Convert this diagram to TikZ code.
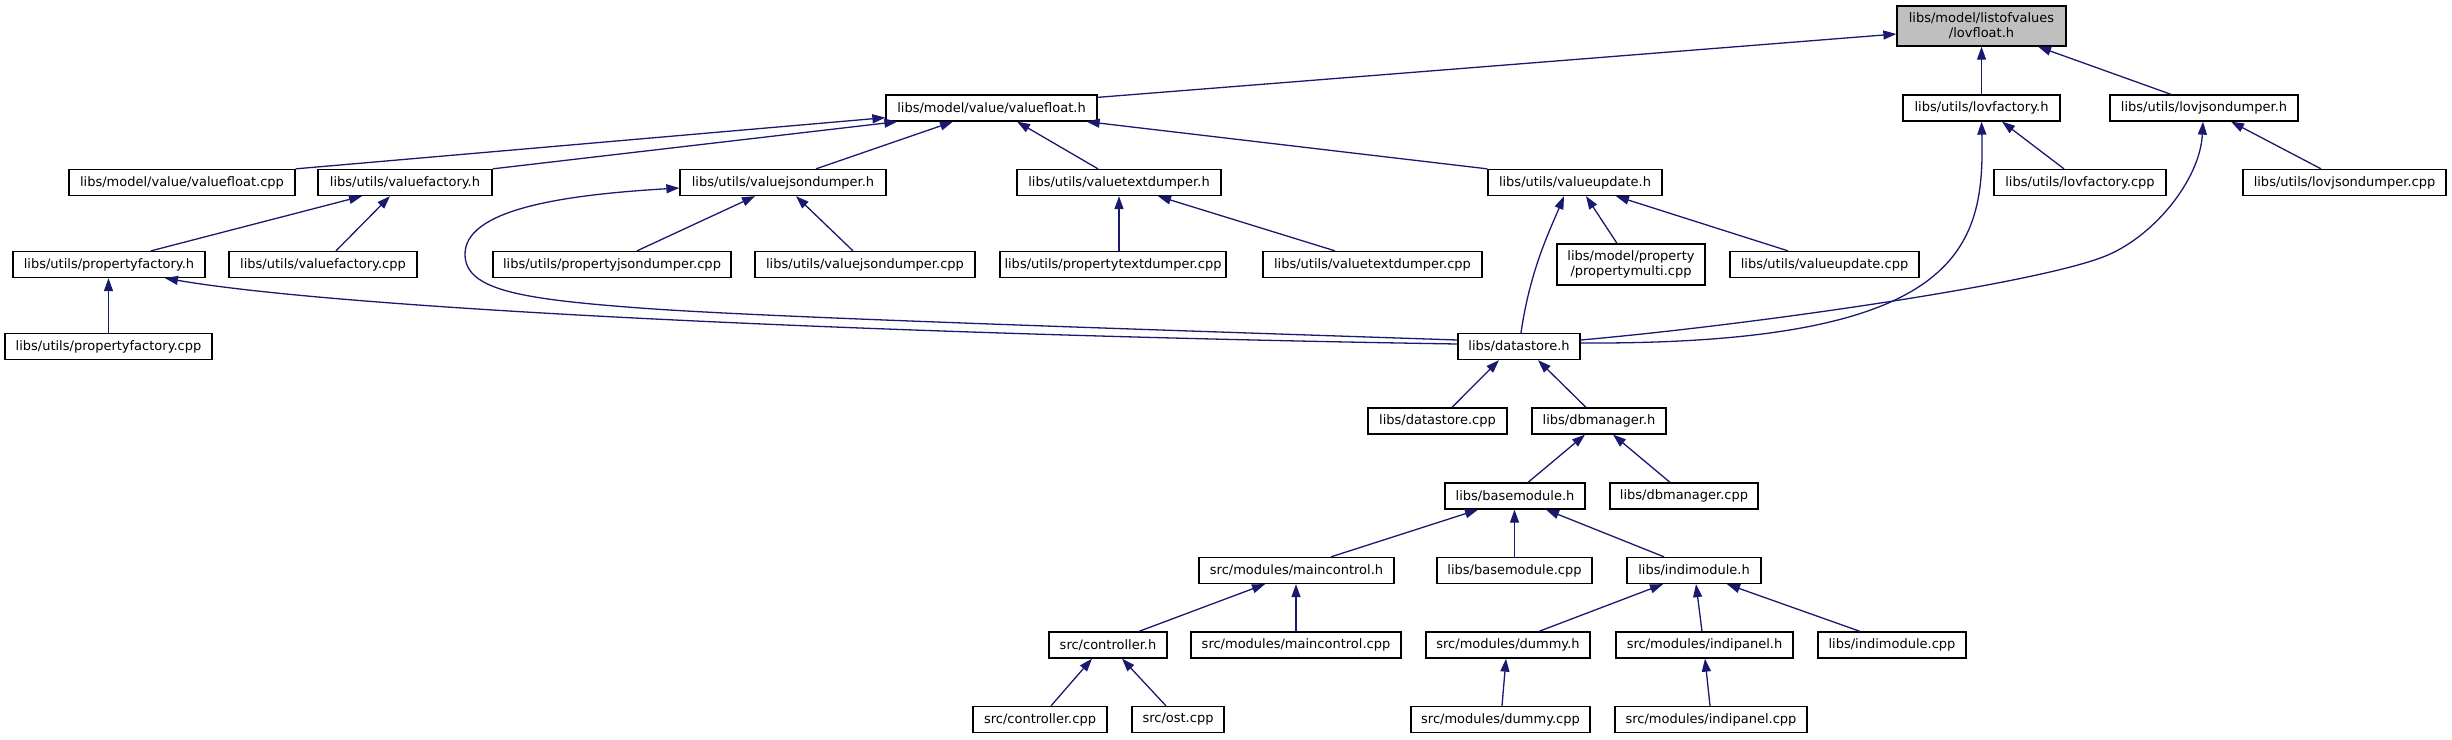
\documentclass[tikz,border=0pt]{standalone}
\usepackage{fontspec}
\setmainfont{DejaVu Sans}
\usetikzlibrary{arrows.meta}
\definecolor{edgeblue}{HTML}{191970}
\definecolor{rootgray}{HTML}{BFBFBF}
\begin{document}
\begin{tikzpicture}[x=1pt,y=-1pt,
  box/.style={draw=black, line width=1.3pt, fill=white, inner sep=0pt,
    minimum height=26pt, font=\fontsize{13}{15}\selectfont, align=center},
  rootbox/.style={box, fill=rootgray, minimum height=40pt},
  twobox/.style={box, minimum height=41pt},
  edge/.style={draw=edgeblue, line width=1.3pt, -{Triangle[length=13pt,width=9pt]}}]
\useasboundingbox (0,0) rectangle (2452,739);
% row 0
\node[rootbox, minimum width=169pt] (lov) at (1981.5,26) {libs/model/listofvalues\\/lovfloat.h};
% row 1
\node[box, minimum width=211pt] (vf) at (991.5,108) {libs/model/value/valuefloat.h};
\node[box, minimum width=157pt] (lf) at (1981.5,108) {libs/utils/lovfactory.h};
\node[box, minimum width=188pt] (lj) at (2204,108) {libs/utils/lovjsondumper.h};
% row 2
\node[box, minimum width=226pt] (vfc) at (182,182.5) {libs/model/value/valuefloat.cpp};
\node[box, minimum width=174pt] (vfh) at (405,182.5) {libs/utils/valuefactory.h};
\node[box, minimum width=206pt] (vjd) at (783,182.5) {libs/utils/valuejsondumper.h};
\node[box, minimum width=204pt] (vtd) at (1119,182.5) {libs/utils/valuetextdumper.h};
\node[box, minimum width=174pt] (vu) at (1575,182.5) {libs/utils/valueupdate.h};
\node[box, minimum width=172pt] (lfc) at (2080,182.5) {libs/utils/lovfactory.cpp};
\node[box, minimum width=203pt] (ljc) at (2344.5,182.5) {libs/utils/lovjsondumper.cpp};
% row 3
\node[box, minimum width=192pt] (pfh) at (109,264.5) {libs/utils/propertyfactory.h};
\node[box, minimum width=188pt] (vfcpp) at (323,264.5) {libs/utils/valuefactory.cpp};
\node[box, minimum width=238pt] (pjd) at (612,264.5) {libs/utils/propertyjsondumper.cpp};
\node[box, minimum width=220pt] (vjdc) at (865,264.5) {libs/utils/valuejsondumper.cpp};
\node[box, minimum width=226pt] (ptd) at (1113,264.5) {libs/utils/propertytextdumper.cpp};
\node[box, minimum width=219pt] (vtdc) at (1372.5,264.5) {libs/utils/valuetextdumper.cpp};
\node[twobox, minimum width=148pt] (pm) at (1631,264.5) {libs/model/property\\/propertymulti.cpp};
\node[box, minimum width=189pt] (vuc) at (1824.5,264.5) {libs/utils/valueupdate.cpp};
% row 4
\node[box, minimum width=207pt] (pfc) at (108.5,346.5) {libs/utils/propertyfactory.cpp};
\node[box, minimum width=122pt] (ds) at (1519,346.5) {libs/datastore.h};
% row 5
\node[box, minimum width=139pt] (dsc) at (1437.5,421) {libs/datastore.cpp};
\node[box, minimum width=134pt] (dbm) at (1599,421) {libs/dbmanager.h};
% row 6
\node[box, minimum width=140pt] (bm) at (1515,496) {libs/basemodule.h};
\node[box, minimum width=148pt] (dbc) at (1684,496) {libs/dbmanager.cpp};
% row 7
\node[box, minimum width=195pt] (mc) at (1296.5,570.5) {src/modules/maincontrol.h};
\node[box, minimum width=155pt] (bmc) at (1514.5,570.5) {libs/basemodule.cpp};
\node[box, minimum width=134pt] (im) at (1694,570.5) {libs/indimodule.h};
% row 8
\node[box, minimum width=118pt] (ch) at (1108,645) {src/controller.h};
\node[box, minimum width=210pt] (mcc) at (1296,645) {src/modules/maincontrol.cpp};
\node[box, minimum width=164pt] (dh) at (1508,645) {src/modules/dummy.h};
\node[box, minimum width=177pt] (ih) at (1704.5,645) {src/modules/indipanel.h};
\node[box, minimum width=148pt] (imc) at (1892,645) {libs/indimodule.cpp};
% row 9
\node[box, minimum width=134pt] (cc) at (1040,719.5) {src/controller.cpp};
\node[box, minimum width=92pt] (ost) at (1178,719.5) {src/ost.cpp};
\node[box, minimum width=179pt] (dc) at (1500.5,719.5) {src/modules/dummy.cpp};
\node[box, minimum width=192pt] (ic) at (1711,719.5) {src/modules/indipanel.cpp};

% edges to lovfloat.h
\draw[edge] ([yshift=-3pt]vf.north east) -- ([yshift=-8pt]lov.west);
\draw[edge] (lf.north) -- (lov.south);
\draw[edge] ([xshift=-33pt]lj.north) -- ([xshift=56.5pt]lov.south);
% edges to valuefloat.h
\draw[edge] (vfc.north east) -- ([yshift=4pt]vf.south west);
\draw[edge] (vfh.north east) -- ([xshift=12pt]vf.south west);
\draw[edge] ([xshift=33pt]vjd.north) -- ([xshift=-38.5pt]vf.south);
\draw[edge] ([xshift=-21pt]vtd.north) -- ([xshift=25.5pt]vf.south);
\draw[edge] (vu.north west) -- ([xshift=-11pt]vf.south east);
% edges to valuefactory.h
\draw[edge] ([xshift=42pt]pfh.north) -- ([xshift=-43pt]vfh.south);
\draw[edge] ([xshift=13pt]vfcpp.north) -- ([xshift=-15pt]vfh.south);
% edges to valuejsondumper.h
\draw[edge] ([xshift=25pt]pjd.north) -- ([xshift=-28pt]vjd.south);
\draw[edge] ([xshift=-12pt]vjdc.north) -- ([xshift=13pt]vjd.south);
\draw[edge] ([yshift=6.5pt]ds.west) .. controls (1100,328) and (760,317) .. (640,308)
  .. controls (520,299) and (466,290) .. (465,255)
  .. controls (464,210) and (560,195) .. ([yshift=-5.5pt]vjd.west);
% edges to valuetextdumper.h
\draw[edge] ([xshift=6pt]ptd.north) -- (vtd.south);
\draw[edge] ([xshift=-37.5pt]vtdc.north) -- ([xshift=39pt]vtd.south);
% edges to valueupdate.h
\draw[edge] ([xshift=2pt]ds.north) .. controls (1530,270) and (1550,230) .. ([xshift=-11pt]vu.south);
\draw[edge] ([xshift=-14pt]pm.north) -- ([xshift=11pt]vu.south);
\draw[edge] ([xshift=-36.5pt]vuc.north) -- ([xshift=41pt]vu.south);
% edges to lovfactory.h / lovjsondumper.h
\draw[edge] ([xshift=-16pt]lfc.north) -- ([xshift=20.5pt]lf.south);
\draw[edge] ([yshift=3.5pt]ds.east) .. controls (1960,345) and (1985,250) .. (lf.south);
\draw[edge] ([xshift=-23.5pt]ljc.north) -- ([xshift=27pt]lj.south);
\draw[edge] ([yshift=6.5pt]ds.east) .. controls (1750,325) and (2030,285) .. (2103,257)
  .. controls (2153,238) and (2200,180) .. ([xshift=-1pt]lj.south);
% edges to propertyfactory.h
\draw[edge] (pfc.north) -- (pfc.north |- pfh.south);
\draw[edge] ([yshift=2.5pt]ds.west) .. controls (900,335) and (350,310) .. ([xshift=56pt]pfh.south);
% lower part
\draw[edge] ([xshift=14.5pt]dsc.north) -- ([xshift=-20pt]ds.south);
\draw[edge] ([xshift=-13pt]dbm.north) -- ([xshift=19pt]ds.south);
\draw[edge] ([xshift=13pt]bm.north) -- ([xshift=-14pt]dbm.south);
\draw[edge] ([xshift=-14pt]dbc.north) -- ([xshift=14pt]dbm.south);
\draw[edge] ([xshift=34.5pt]mc.north) -- ([xshift=-37pt]bm.south);
\draw[edge] (bmc.north) -- (bmc.north |- bm.south);
\draw[edge] ([xshift=-30pt]im.north) -- ([xshift=31pt]bm.south);
\draw[edge] ([xshift=31pt]ch.north) -- ([xshift=-31.5pt]mc.south);
\draw[edge] (mcc.north) -- (mcc.north |- mc.south);
\draw[edge] ([xshift=31pt]dh.north) -- ([xshift=-31pt]im.south);
\draw[edge] ([xshift=-2.5pt]ih.north) -- ([xshift=2pt]im.south);
\draw[edge] ([xshift=-32pt]imc.north) -- ([xshift=33pt]im.south);
\draw[edge] ([xshift=11pt]cc.north) -- ([xshift=-16pt]ch.south);
\draw[edge] ([xshift=-12pt]ost.north) -- ([xshift=14pt]ch.south);
\draw[edge] ([xshift=1.5pt]dc.north) -- ([xshift=-2pt]dh.south);
\draw[edge] ([xshift=-1pt]ic.north) -- ([xshift=0.5pt]ih.south);
\end{tikzpicture}
\end{document}
